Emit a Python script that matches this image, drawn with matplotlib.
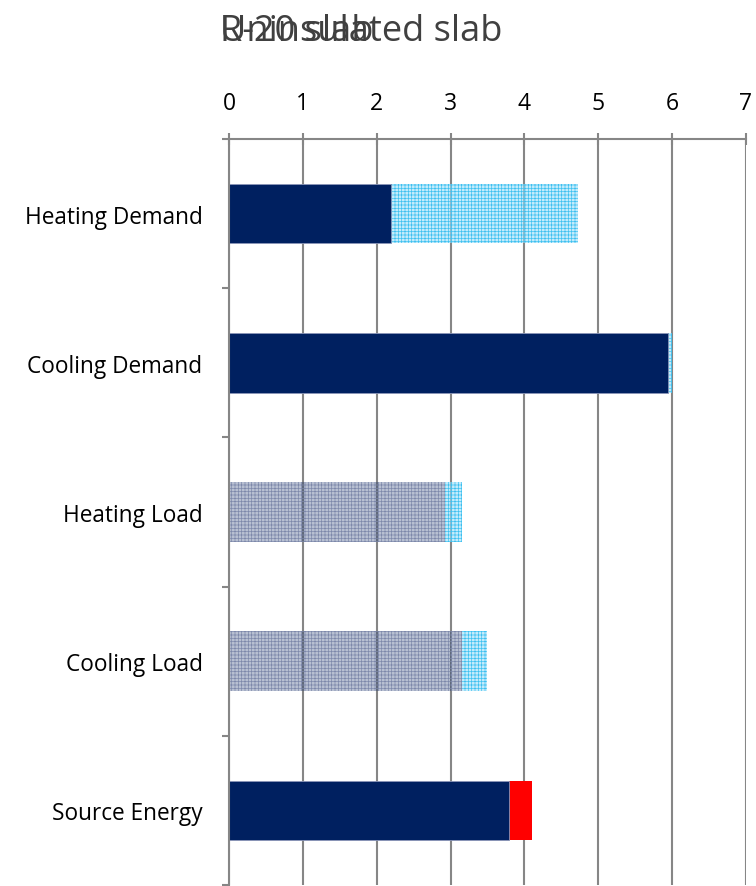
import matplotlib
matplotlib.use("Agg")
import matplotlib.pyplot as plt
import numpy as np

categories = ["Heating Demand", "Cooling Demand", "Heating Load", "Cooling Load", "Source Energy"]
r20_slab = [2.20, 5.95, 2.93, 3.15, 3.79]
uninsulated_slab = [4.72, 6.00, 3.15, 3.49, 4.10]
x_ticks = [0, 1, 2, 3, 4, 5, 6, 7]

navy = "#002060"
grid_grey = "#868686"

plt.rcParams["hatch.linewidth"] = 0.5

fig = plt.figure(figsize=(7.56, 8.87), dpi=100)
ax = fig.add_axes([229 / 756, 1 - 886 / 887, (746 - 229) / 756, (886 - 140) / 887])

y = np.arange(len(categories))
h = 0.4

for i, cat in enumerate(categories):
    front = r20_slab[i]
    back = uninsulated_slab[i]
    is_load = "Load" in cat
    # front series
    if is_load:
        ax.barh(y[i], front, height=h, color=(0.0, 0.125, 0.376, 0.28),
                edgecolor="#7D88AA", hatch="+++++", linewidth=0, zorder=2)
    else:
        ax.barh(y[i], front, height=h, color=navy, edgecolor="#8B96B8",
                linewidth=0.6, zorder=3)
    # remaining part of the second series
    if cat == "Source Energy":
        ax.barh(y[i], back - front, left=front, height=h, color="#FF0000",
                linewidth=0, zorder=2)
    else:
        ax.barh(y[i], back - front, left=front, height=h,
                color=(0.62, 0.88, 0.98, 0.6), edgecolor="#3EC0F0",
                hatch="+++++", linewidth=0, zorder=2)

ax.set_xlim(0, 7)
ax.set_ylim(len(categories) - 0.5, -0.5)
ax.set_xticks(x_ticks)
ax.set_xticklabels([str(t) for t in x_ticks])
ax.xaxis.tick_top()
ax.set_yticks(y)
ax.set_yticklabels(categories)
ax.set_yticks(np.arange(-0.5, len(categories)), minor=True)

ax.grid(axis="x", color=grid_grey, linewidth=1.5, zorder=1)
ax.set_axisbelow(True)

for s in ["right", "bottom"]:
    ax.spines[s].set_visible(False)
for s in ["top", "left"]:
    ax.spines[s].set_color(grid_grey)
    ax.spines[s].set_linewidth(1.5)
    ax.spines[s].set_zorder(4)

ax.tick_params(axis="x", which="major", direction="inout", length=8, width=1.5,
               color=grid_grey, pad=13, labelsize=16.5, labelcolor="#000000")
ax.tick_params(axis="y", which="major", length=0, pad=19, labelsize=16.3,
               labelcolor="#000000")
ax.tick_params(axis="y", which="minor", direction="out", length=5, width=1.5,
               color=grid_grey)
for lab in ax.get_xticklabels() + ax.get_yticklabels():
    lab.set_fontfamily("Open Sans")

# the two chart titles are printed on top of each other
for t in ["Uninsulated slab", "R-20 slab"]:
    fig.text(220 / 756, 1 - 32 / 887, t, ha="left", va="center", fontsize=26,
             color="#404040", family="Open Sans")

fig.savefig("out.png", dpi=100)
